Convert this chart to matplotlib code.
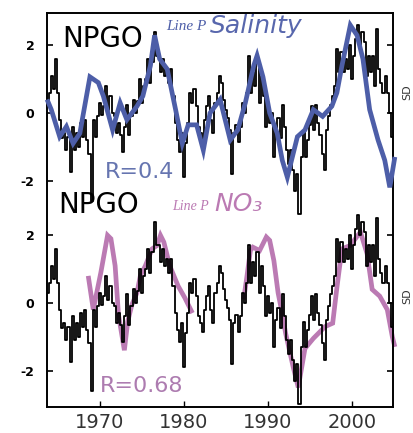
import numpy as np
import matplotlib
matplotlib.use("Agg")
import matplotlib.pyplot as plt

# ---------------- data ----------------
# NPGO index, quarterly, starting 1963.75
npgo_start = 1963.75
npgo_step = 0.25
npgo = [
    0.3,
    0.6, 1.1, 0.7, 1.6,
    0.6, -0.2, -0.75, -0.6,
    -1.1, -0.7, -1.75, -0.4,
    -1.1, -0.6, -1.0, -0.3,
    -0.7, -0.2, -0.8, -1.2,
    -2.6, -0.2, -0.7, -0.1,
    0.3, -0.05, 0.2, 0.8,
    0.1, 0.5, 0.0, -0.1,
    -0.6, -0.3, -0.65, -1.15,
    -0.4, 0.25, -0.65, -0.1,
    0.4, 0.0, 0.35, 1.0,
    0.3, 0.8, 1.0, 1.6,
    0.9, 1.5, 2.4, 1.7,
    1.7, 1.2, 1.6, 1.1,
    1.3, 0.9, 1.3, 0.5,
    -0.3, -0.8, -1.15, -0.6,
    -1.9, -0.9, -0.3, 0.6,
    0.3, 0.7, 0.2, -0.4,
    -0.6, -0.85, -0.2, 0.2,
    0.5, -0.2, -0.6, 0.3,
    0.6, 1.1, 0.9, 0.4,
    0.1, -0.15, -0.5, -1.8,
    -0.6, -0.35, -0.85, -0.4,
    0.3, 0.0, 0.6, 1.7,
    0.6, 1.2, 0.8, 1.5,
    0.3, 1.1, 0.5, -0.4,
    0.2, -0.3, 0.0, -1.3,
    -0.5, -0.15, -0.75, 0.25,
    -0.4, -1.1, -1.5, -1.1,
    -1.7, -2.3, -1.8, -3.0,
    -1.3, -0.55, -1.3, -0.8,
    -0.35, 0.2, -0.5, 0.25,
    -0.3, -0.65, -1.2, -1.7,
    -0.5, -0.1, 0.25, 0.5,
    0.8, 1.9, 1.2, 1.8,
    1.2, 1.6, 1.3, 2.0,
    1.0, 1.7, 2.2, 2.6,
    2.0, 2.4, 2.1, 1.1,
    1.7, 1.2, 1.7, 0.8,
    2.5, 1.3, 0.9, 0.6,
    1.1, 0.6, 0.0, -0.7,
]

# Line P salinity
sal_years = [1963.7, 1964.2, 1965.2, 1966.0, 1966.8, 1967.6, 1968.8, 1969.8, 1970.4,
             1971.5, 1972.4, 1973.2, 1974.4, 1975.1, 1976.0, 1976.5, 1977.1, 1978.0,
             1979.0, 1979.8, 1980.5, 1981.5, 1982.3, 1983.1, 1984.3, 1985.5, 1986.4,
             1987.3, 1988.3, 1988.7, 1989.4, 1990.2, 1991.1, 1991.7, 1992.3, 1992.9,
             1993.5, 1994.4, 1995.4, 1996.5, 1997.6, 1998.2, 1998.8, 1999.8, 2000.6,
             2001.3, 2002.1, 2003.1, 2003.9, 2004.5, 2005.1]
sal = [0.4, 0.1, -0.7, -0.4, -0.9, -0.6, 1.07, 0.9, 0.5,
       -0.5, 0.3, -0.2, 0.2, 0.5, 1.4, 2.3, 1.6, 1.3,
       0.1, -0.9, -0.35, -0.35, -1.1, 0.0, 0.4, -0.8, -0.5,
       0.3, 1.4, 1.7, 1.07, 0.0, -0.6, -1.4, -1.9, -1.3,
       -0.7, -0.5, 0.1, -0.1, 0.2, 0.6, 1.4, 2.6, 2.3,
       1.6, 0.1, -0.8, -1.4, -2.2, -1.3]

# Line P NO3 (two segments, gap 1981-1987)
no3_years_a = [1968.6, 1969.2, 1970.1, 1970.9, 1971.3, 1971.8, 1972.2, 1972.9, 1973.3,
               1973.8, 1974.4, 1974.8, 1975.4, 1976.2, 1976.8, 1977.2, 1977.6, 1978.3,
               1979.3, 1980.1, 1981.0]
no3_a = [0.8, -0.2, 0.9, 2.0, 1.9, 1.1, -0.35, -1.4, -0.55,
         -0.05, 0.3, 0.8, 1.1, 1.6, 1.7, 2.0, 1.8, 1.1,
         0.5, 0.15, -0.3]
no3_years_b = [1987.1, 1987.5, 1987.9, 1988.2, 1989.0, 1989.8, 1990.2, 1990.7, 1991.2,
               1991.6, 1992.1, 1993.0, 1993.6, 1994.4, 1995.4, 1996.8, 1997.7, 1998.2,
               1998.8, 1999.8, 2001.0, 2001.8, 2002.4, 2003.3, 2004.2, 2004.8, 2005.1]
no3_b = [0.1, 0.8, 1.55, 1.65, 1.55, 1.95, 1.85, 1.25, 0.3,
         -0.2, -0.9, -1.9, -2.5, -1.35, -1.05, -0.7, -0.6, 0.45,
         1.6, 1.7, 2.1, 1.45, 0.4, 0.2, -0.2, -1.0, -1.3]

x_ticks = [1970, 1980, 1990, 2000]
y_tick_vals = [-2, 0, 2]

# ---------------- figure ----------------
W, H = 413, 433
fig = plt.figure(figsize=(W / 100, H / 100), dpi=100)
ax = fig.add_axes([47 / W, 1 - 407 / H, (393 - 47) / W, (407 - 13) / H])

OFF = 5.62  # vertical offset of the upper panel
BLUE = "#4d5ea8"
PINK = "#bb7ab3"

npgo_arr = np.array(npgo)
npgo_t = npgo_start + npgo_step * np.arange(len(npgo_arr))

# upper panel
ax.plot(npgo_t, npgo_arr + OFF, color="black", lw=1.3, drawstyle="steps-mid", zorder=2)
ax.plot(sal_years, np.array(sal) + OFF, color=BLUE, lw=3.4, zorder=3,
        solid_joinstyle="miter", solid_capstyle="butt", clip_on=False)

# lower panel
ax.plot(no3_years_a, no3_a, color=PINK, lw=3.4, zorder=2, solid_joinstyle="miter",
        solid_capstyle="butt")
ax.plot(no3_years_b, no3_b, color=PINK, lw=3.4, zorder=2, solid_joinstyle="miter",
        solid_capstyle="butt", clip_on=False)
ax.plot(npgo_t, npgo_arr, color="black", lw=1.3, drawstyle="steps-mid", zorder=3)

ax.set_xlim(1963.69, 2004.88)
ax.set_ylim(-3.08, -3.08 + 11.66)

ax.set_xticks(x_ticks)
ax.set_xticklabels([str(v) for v in x_ticks], fontsize=14, color="#333333")
yt = [v for v in y_tick_vals] + [v + OFF for v in y_tick_vals]
ax.set_yticks(yt)
ax.set_yticklabels([str(v) for v in y_tick_vals] * 2, fontsize=9, fontweight="bold")
ax.tick_params(axis="y", direction="in", length=4, right=True, pad=9, width=1.2)
ax.tick_params(axis="x", direction="in", length=4, pad=4, width=1.0)
for s in ax.spines.values():
    s.set_linewidth(1.4)


def ftext(x, y, s, **kw):
    fig.text(x / W, 1 - y / H, s, **kw)


ftext(62, 47, "NPGO", fontsize=20, va="baseline", ha="left", color="black")
ftext(166, 30, "Line P", fontsize=11, family="Liberation Serif", style="italic",
      va="baseline", ha="left", color=BLUE)
ftext(210, 33, "Salinity", fontsize=18, style="italic", va="baseline", ha="left",
      color="#5867ad", fontweight="light")
ftext(105, 178, "R=0.4", fontsize=16, va="baseline", ha="left", color="#6675b0")

ftext(58, 213, "NPGO", fontsize=20, va="baseline", ha="left", color="black")
ftext(172, 210, "Line P", fontsize=10, family="Liberation Serif", style="italic",
      va="baseline", ha="left", color=PINK)
ftext(214, 211, "NO₃", fontsize=18, style="italic", va="baseline", ha="left",
      color=PINK)
ftext(100, 392, "R=0.68", fontsize=16, va="baseline", ha="left", color="#ad7cb0")

ftext(407, 92, "SD", fontsize=8, rotation=90, va="center", ha="center", color="#333333")
ftext(407, 296, "SD", fontsize=8, rotation=90, va="center", ha="center", color="#333333")

fig.savefig("out.png", dpi=100, facecolor="white")
